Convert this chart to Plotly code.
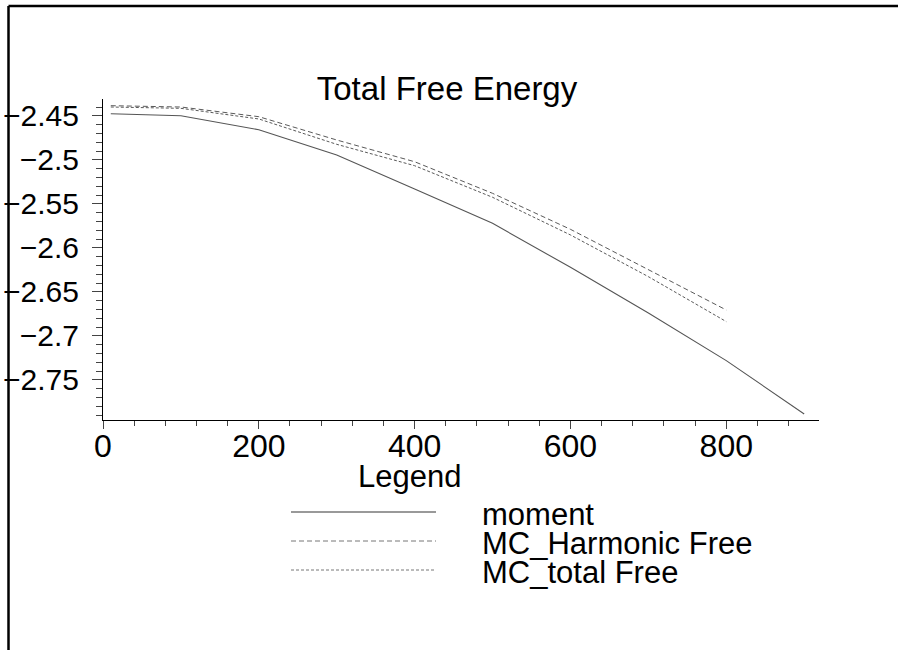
import plotly.graph_objects as go

# Temperature grid and the three free-energy estimates
temps_moment = [10, 100, 200, 300, 400, 500, 600, 700, 800, 900]
moment = [-2.4474, -2.4497, -2.4656, -2.4943, -2.5330, -2.5720, -2.6220, -2.6740, -2.7280, -2.7886]

temps_mc = [10, 100, 200, 300, 400, 500, 600, 700, 800]
mc_harmonic = [-2.4383, -2.4398, -2.4508, -2.4773, -2.5020, -2.5379, -2.5788, -2.6250, -2.6705]
mc_total = [-2.4398, -2.4413, -2.4534, -2.4822, -2.5065, -2.5424, -2.5852, -2.6326, -2.6837]

series_names = ["moment", "MC_Harmonic Free", "MC_total Free"]

FONT = "Liberation Sans, Arial, Helvetica, sans-serif"
FS = 33
W, H = 898, 650
L, R, T, B = 103, 79, 99, 230
plot_w = W - L - R
plot_h = H - T - B


def px_x(px):
    """page pixel column -> paper x"""
    return (px - L) / plot_w


def px_y(py):
    """page pixel row -> paper y"""
    return (H - B - py) / plot_h


styles = [
    dict(color="#555555", width=1.1, dash="solid"),
    dict(color="#5a5a5a", width=1.0, dash="5px,3px"),
    dict(color="#5a5a5a", width=1.0, dash="3px,2px"),
]

fig = go.Figure()
for xs, ys, name, st in zip([temps_moment, temps_mc, temps_mc],
                            [moment, mc_harmonic, mc_total],
                            series_names, styles):
    fig.add_trace(go.Scatter(x=xs, y=ys, mode="lines", name=name, line=st, showlegend=False))

# outer frame: only its left and top edges fall inside the page
fx, fy = px_x(8.5), px_y(6)
fig.add_shape(type="line", xref="paper", yref="paper", x0=fx, x1=fx, y0=-3, y1=fy,
              line=dict(color="black", width=2.5), layer="above")
fig.add_shape(type="line", xref="paper", yref="paper", x0=fx, x1=3, y0=fy, y1=fy,
              line=dict(color="black", width=2.5), layer="above")

# legend block below the axes
fig.add_annotation(text="Legend", xref="paper", yref="paper", x=px_x(409), y=px_y(477),
                   xanchor="center", yanchor="middle", showarrow=False,
                   font=dict(size=31, family=FONT, color="black"))
row_y = [512, 541, 570]
for name, st, ry in zip(series_names, styles, row_y):
    fig.add_shape(type="line", xref="paper", yref="paper",
                  x0=px_x(291), x1=px_x(436), y0=px_y(ry), y1=px_y(ry),
                  line=dict(color="#777777", width=1.3 if st["dash"] == "solid" else 1.0,
                            dash=st["dash"]))
    fig.add_annotation(text=name, xref="paper", yref="paper", x=px_x(480), y=px_y(ry + 2),
                       xanchor="left", yanchor="middle", showarrow=False,
                       font=dict(size=31, family=FONT, color="black"))

fig.update_layout(
    width=W, height=H,
    margin=dict(l=L, r=R, t=T, b=B, pad=0),
    paper_bgcolor="white", plot_bgcolor="white",
    font=dict(family=FONT, size=FS, color="black"),
    title=dict(text="Total Free Energy", x=447 / W, xref="container", xanchor="center",
               y=1 - 88 / H, yref="container", yanchor="middle",
               font=dict(size=FS, family=FONT)),
    showlegend=False,
    xaxis=dict(
        range=[0, 919], showgrid=False, zeroline=False, automargin=False,
        showline=True, linecolor="black", linewidth=1,
        ticks="outside", ticklen=8, tickwidth=1, tickcolor="#444",
        tick0=0, dtick=200,
        minor=dict(ticks="outside", ticklen=5, dtick=40, tickcolor="#444", showgrid=False),
        tickfont=dict(size=32),
        ticklabelstandoff=-10,
    ),
    yaxis=dict(
        range=[-2.7955, -2.4307], showgrid=False, zeroline=False, automargin=False,
        showline=True, linecolor="black", linewidth=1,
        ticks="outside", ticklen=10, tickwidth=1, tickcolor="#444",
        tick0=-2.45, dtick=0.05,
        minor=dict(ticks="outside", ticklen=6, dtick=0.01, tickcolor="#444", showgrid=False),
        tickfont=dict(size=30),
        ticklabelstandoff=7,
    ),
)

fig.write_html("out.html")
